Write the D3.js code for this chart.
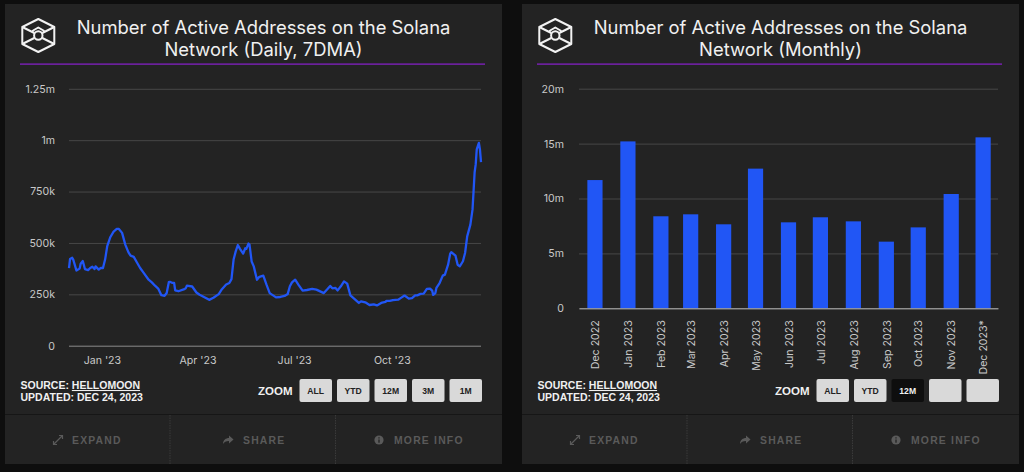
<!DOCTYPE html>
<html>
<head>
<meta charset="utf-8">
<script src="https://cdn.jsdelivr.net/npm/d3@7/dist/d3.min.js"></script>
<style>
  html, body { margin: 0; padding: 0; background: #0e0e0e; overflow: hidden; }
  svg { display: block; }
  text { font-family: Inter, "Noto Sans", sans-serif; }
  .foot text { font-family: "Liberation Sans", Arial, sans-serif; }
</style>
</head>
<body>
<svg id="chart" width="1024" height="472"></svg>
<script>
// daily chart: days since 1 Dec 2022 and active addresses, thousands
const dailyDays = [0,1,3,4,7,10,11,13,15,18,20,22,24,25,28,30,32,34,36,39,42,45,47,50,53,56,58,61,64,67,70,75,78,81,84,87,90,92,94,95,97,99,100,103,108,110,111,116,120,123,128,132,136,141,144,148,151,153,155,157,159,161,164,166,167,169,170,172,174,177,179,180,183,186,189,195,199,203,206,208,210,213,216,220,224,229,233,240,243,246,248,251,253,256,259,262,265,269,273,275,279,283,287,290,294,298,299,302,305,310,313,316,320,323,326,328,331,334,337,340,342,343,345,346,349,352,354,357,359,360,364,366,368,371,373,375,378,380,381,382,383,384,386,387,388];
const dailyValues = [378,422,428,419,366,375,399,412,373,368,378,384,373,386,370,379,378,419,484,529,555,568,568,549,492,454,438,432,405,378,357,321,308,292,278,246,243,256,309,311,306,306,269,265,274,280,292,288,259,248,235,223,233,251,275,298,305,324,419,459,490,471,448,474,471,497,492,410,386,321,334,336,341,297,256,235,237,242,252,289,308,321,297,268,271,276,273,256,273,291,279,281,269,289,313,302,245,227,208,216,211,198,201,196,208,213,218,218,222,224,234,244,229,231,245,245,252,253,276,278,268,247,256,281,305,341,346,394,448,455,438,394,386,411,451,532,589,662,752,844,882,955,987,955,893];
const dailyTicks = [0, 250, 500, 750, 1000, 1250];
const dailyTickLabels = ["0", "250k", "500k", "750k", "1m", "1.25m"];
const dailyMonths = ["2023-01-01", "2023-04-01", "2023-07-01", "2023-10-01"];

// monthly chart, millions
const months = ["Dec 2022","Jan 2023","Feb 2023","Mar 2023","Apr 2023","May 2023","Jun 2023","Jul 2023","Aug 2023","Sep 2023","Oct 2023","Nov 2023","Dec 2023"];
const monthlyValues = [11.68,15.2,8.38,8.56,7.65,12.72,7.83,8.29,7.92,6.07,7.37,10.41,15.57];
const monthlyTicks = [0, 5, 10, 15, 20];

const leftButtons = ["ALL", "YTD", "12M", "3M", "1M"];
const rightButtons = ["ALL", "YTD", "12M", "", ""];
const footerItems = ["EXPAND", "SHARE", "MORE INFO"];

const svg = d3.select("#chart");
const parseIso = d3.timeParse("%Y-%m-%d");
const parseMonth = d3.timeParse("%b %Y");
const dailyStart = parseIso("2022-12-01");

//Everything that is the same on both cards
function drawCard(x0, titleLines, buttons, activeButton) {
  const card = svg.append("g").attr("transform", `translate(${x0},0)`);
  card.append("rect").attr("x", 5).attr("y", 4).attr("width", 497).attr("height", 460).attr("fill", "#232323");

  // logo
  const logo = card.append("g").attr("transform", "translate(38.3,35.5)")
    .attr("fill", "none").attr("stroke", "#f2f2f2").attr("stroke-width", 2).attr("stroke-linejoin", "round");
  logo.append("path").attr("d", "M0,-16.5L16,-8.5V8.5L0,16.5L-16,8.5V-8.5Z");
  logo.append("path").attr("d", "M-16,-8.5L-4,-2.5M16,-8.5L4,-2.5M-16,8.5L-4,2.5M16,8.5L4,2.5M-6,-4.5L0,-8L6,-4.5");
  logo.append("circle").attr("r", 4.2);

  const title = card.append("text").attr("fill", "#f0f0f0").attr("font-size", 18.4).attr("text-anchor", "middle");
  titleLines.forEach((line, i) => {
    title.append("tspan").attr("x", 263.5).attr("y", 33.5 + i * 22).text(line);
  });
  card.append("rect").attr("x", 20).attr("y", 63.5).attr("width", 465).attr("height", 1.2).attr("fill", "#8a20d0");

  const foot = card.append("g").attr("class", "foot");
  foot.append("text").attr("x", 20.5).attr("y", 389).attr("fill", "#f0f0f0").attr("font-size", 10.5).attr("font-weight", 700)
    .text("SOURCE: ").append("tspan").attr("text-decoration", "underline").text("HELLOMOON");
  foot.append("text").attr("x", 20.5).attr("y", 401).attr("fill", "#f0f0f0").attr("font-size", 10.5).attr("font-weight", 700)
    .text("UPDATED: DEC 24, 2023");
  foot.append("text").attr("x", 258).attr("y", 395).attr("fill", "#f0f0f0").attr("font-size", 11.5).attr("font-weight", 700).text("ZOOM");

  buttons.forEach((b, i) => {
    const bx = 299.5 + i * 37.5;
    const on = i === activeButton;
    foot.append("rect").attr("x", bx).attr("y", 379).attr("width", 32.5).attr("height", 23).attr("rx", 2)
      .attr("fill", on ? "#0e0e0e" : "#d9d9d9");
    foot.append("text").attr("x", bx + 16.2).attr("y", 394).attr("text-anchor", "middle").attr("font-size", 8.6).attr("font-weight", 700)
      .attr("fill", on ? "#f0f0f0" : "#222").text(b);
  });

  // bottom strip
  foot.append("rect").attr("x", 5).attr("y", 414).attr("width", 497).attr("height", 1).attr("fill", "#161616");
  [170, 335.5].forEach(x => {
    foot.append("line").attr("x1", x).attr("x2", x).attr("y1", 415).attr("y2", 464)
      .attr("stroke", "#3a3a3a").attr("stroke-dasharray", "1.5 1");
  });
  const labelX = [72, 243, 394];
  const iconX = [58, 228, 379];
  footerItems.forEach((t, i) => {
    foot.append("text").attr("x", labelX[i]).attr("y", 444).attr("fill", "#5a5a5a").attr("font-size", 10.4).attr("font-weight", 700)
      .attr("letter-spacing", 1.2).text(t);
    const ic = foot.append("g").attr("transform", `translate(${iconX[i]},440)`);
    if (i === 0) {
      ic.append("path").attr("d", "M-4,4L4,-4M1,-4.5H4.5V-1M-4.5,1V4.5H-1").attr("fill", "none").attr("stroke", "#5a5a5a").attr("stroke-width", 1.2);
    } else if (i === 1) {
      ic.append("path").attr("d", "M-5,4C-5,0 -2,-2 1,-2V-4.5L5.5,-0.5L1,3.5V1C-2,1 -4,2 -5,4Z").attr("fill", "#5a5a5a");
    } else {
      ic.append("circle").attr("r", 4.6).attr("fill", "#5a5a5a");
      ic.append("path").attr("d", "M0,-2.8V-1.6M0,-0.6V2.8").attr("stroke", "#232323").attr("stroke-width", 1.3);
    }
  });
  return card;
}

function styleAxisText(sel) {
  sel.attr("fill", "#c9c9c9").attr("font-size", 10.6).attr("font-family", "Inter, sans-serif");
}

// left card: line
const leftCard = drawCard(0, ["Number of Active Addresses on the Solana", "Network (Daily, 7DMA)"], leftButtons, -1);
const xDaily = d3.scaleTime().domain([dailyStart, d3.timeDay.offset(dailyStart, 388)]).range([69, 481]);
const yDaily = d3.scaleLinear().domain([0, 1250]).range([345.7, 88.8]);

const yAxisL = leftCard.append("g").attr("transform", "translate(69,0)")
  .call(d3.axisLeft(yDaily).tickValues(dailyTicks).tickSize(0).tickPadding(14).tickFormat((d, i) => dailyTickLabels[i]));
yAxisL.select(".domain").remove();
yAxisL.selectAll("text").call(styleAxisText);
yAxisL.selectAll("line").attr("x2", 412).attr("stroke", d => d === 0 ? "#8c8c8c" : "#474747").attr("stroke-width", 1);

const xAxisL = leftCard.append("g").attr("transform", "translate(0,345.7)")
  .call(d3.axisBottom(xDaily).tickValues(dailyMonths.map(parseIso)).tickSize(0).tickPadding(11).tickFormat(d3.timeFormat("%b '%y")));
xAxisL.select(".domain").remove();
xAxisL.selectAll("text").call(styleAxisText);

const dailyLine = d3.line()
  .x((d, i) => xDaily(d3.timeDay.offset(dailyStart, dailyDays[i])))
  .y((d, i) => yDaily(dailyValues[i]));
leftCard.append("path").datum(dailyValues).attr("d", dailyLine)
  .attr("fill", "none").attr("stroke", "#2156f5").attr("stroke-width", 2.3).attr("stroke-linejoin", "round");

// right card: bars, on a time axis so month lengths show in the spacing
const rightCard = drawCard(517, ["Number of Active Addresses on the Solana", "Network (Monthly)"], rightButtons, 2);
const xMonthly = d3.scaleTime().domain([parseIso("2022-11-16"), parseIso("2023-12-15")]).range([62, 481]);
const yMonthly = d3.scaleLinear().domain([0, 20]).range([308.3, 88.7]);

const yAxisR = rightCard.append("g").attr("transform", "translate(62,0)")
  .call(d3.axisLeft(yMonthly).tickValues(monthlyTicks).tickSize(0).tickPadding(15).tickFormat(d => d === 0 ? "0" : d + "m"));
yAxisR.select(".domain").remove();
yAxisR.selectAll("text").call(styleAxisText);
yAxisR.selectAll("line").attr("x2", 419).attr("stroke", "#474747");

rightCard.append("g").selectAll("rect").data(monthlyValues).join("rect")
  .attr("x", (d, i) => xMonthly(parseMonth(months[i])) - 7.6)
  .attr("width", 15.2)
  .attr("y", d => yMonthly(d))
  .attr("height", d => yMonthly(0) - yMonthly(d))
  .attr("fill", "#2156f5");

const xAxisR = rightCard.append("g").attr("transform", "translate(0,308.3)")
  .call(d3.axisBottom(xMonthly).tickValues(months.map(parseMonth)).tickSize(0)
    .tickFormat((d, i) => months[i] + (i === months.length - 1 ? "*" : "")));
xAxisR.select(".domain").attr("stroke", "#b5b5b5");
xAxisR.selectAll("text").call(styleAxisText);
xAxisR.selectAll("text").attr("text-anchor", "end").attr("dy", "0.35em").attr("y", 0).attr("transform", "translate(0,12) rotate(-90)");
</script>
</body>
</html>
